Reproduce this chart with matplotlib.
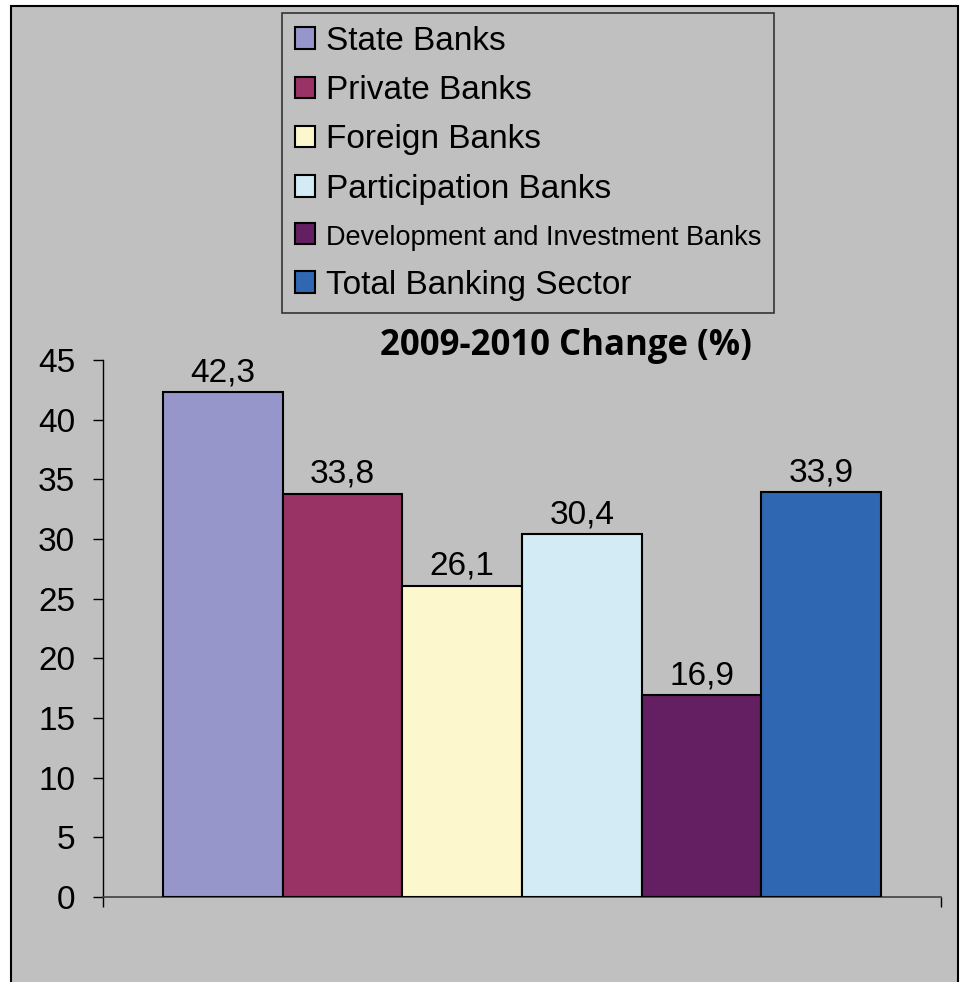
import matplotlib
matplotlib.use('Agg')
import matplotlib.pyplot as plt
from matplotlib.patches import Patch, Rectangle

# data
categories = ['State Banks', 'Private Banks', 'Foreign Banks', 'Participation Banks',
              'Development and Investment Banks', 'Total Banking Sector']
values = [42.3, 33.8, 26.1, 30.4, 16.9, 33.9]
value_labels = ['42,3', '33,8', '26,1', '30,4', '16,9', '33,9']
colors = ['#9696CA', '#993366', '#FCF7CC', '#D3EBF4', '#641F62', '#2F67B2']
yticks = [0, 5, 10, 15, 20, 25, 30, 35, 40, 45]

plt.rcParams['font.family'] = ['Liberation Sans', 'DejaVu Sans']

W, H = 962, 982
fig = plt.figure(figsize=(W / 100, H / 100), dpi=100, facecolor='white')

# gray chart area with black frame (bottom edge runs off the image)
fig.patches.append(Rectangle((11 / W, -0.02), (958 - 11) / W, 1.02 - 6 / H,
                             transform=fig.transFigure, facecolor='#C0C0C0',
                             edgecolor='black', linewidth=1.5, zorder=-10))

ax = fig.add_axes([103 / W, 1 - 897 / H, (941 - 103) / W, (897 - 360) / H])
ax.patch.set_visible(False)

x = range(len(values))
ax.bar(x, values, width=1.0, color=colors, edgecolor='black', linewidth=1.5, zorder=3)
for xi, v, lab in zip(x, values, value_labels):
    ax.annotate(lab, (xi, v), xytext=(0, 8), textcoords='offset points',
                ha='center', va='baseline', fontsize=24)

ax.set_xlim(-1, 6)
ax.set_ylim(0, 45)
ax.set_yticks(yticks)
ax.set_xticks([-1, 6])
ax.set_xticklabels(['', ''])
ax.tick_params(axis='y', direction='out', length=7, width=1, labelsize=24, pad=13)
ax.tick_params(axis='x', direction='out', length=7, width=1)
for s in ['top', 'right']:
    ax.spines[s].set_visible(False)
ax.spines['left'].set_linewidth(1)
ax.spines['bottom'].set_linewidth(1.2)
ax.spines['bottom'].set_color('#404040')

fig.text(566 / W, 1 - 355 / H, '2009-2010 Change (%)', ha='center', va='baseline',
         fontsize=25, fontweight='bold', family=['Open Sans', 'DejaVu Sans'])

handles = [Patch(facecolor=c, edgecolor='black', linewidth=1.5) for c in colors]
leg = fig.legend(handles, categories, loc='upper left',
                 bbox_to_anchor=(282 / W, 1 - 13 / H), borderaxespad=0,
                 fontsize=24, handlelength=0.6, handleheight=0.6,
                 handletextpad=0.35, borderpad=0.38, labelspacing=0.55,
                 fancybox=False, framealpha=1, facecolor='#C0C0C0',
                 edgecolor='#333333')
leg.get_frame().set_linewidth(1.2)
# the long label is set narrower in the original
leg.get_texts()[4].set_fontsize(19.5)

fig.savefig('out.png', dpi=100, facecolor='white')
